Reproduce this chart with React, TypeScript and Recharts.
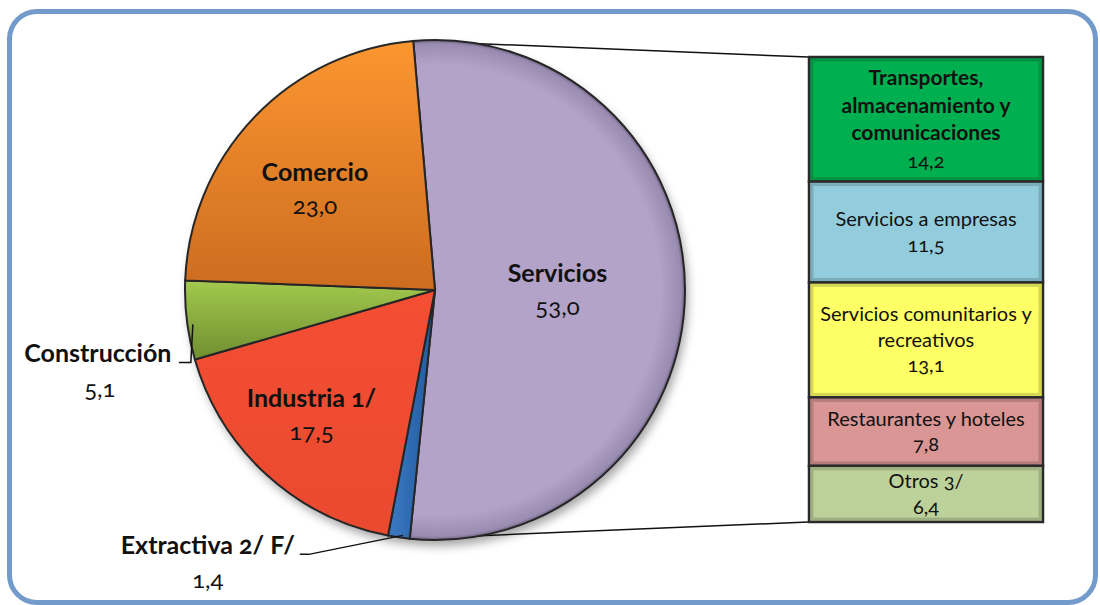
import { PieChart, Pie, Cell, BarChart, Bar, XAxis, YAxis, LabelList } from 'recharts'

// participación porcentual por sector
const sectores = ['Servicios', 'Extractiva 2/ F/', 'Industria 1/', 'Construcción', 'Comercio']
const participacion = [53.0, 1.4, 17.5, 5.1, 23.0]

// desglose de Servicios (cada entrada son las líneas de su etiqueta)
const subsectores = [
  ['Transportes,', 'almacenamiento y', 'comunicaciones'],
  ['Servicios a empresas'],
  ['Servicios comunitarios y', 'recreativos'],
  ['Restaurantes y hoteles'],
  ['Otros 3/'],
]
const subParticipacion = [14.2, 11.5, 13.1, 7.8, 6.4]

const coloresPie = ['url(#gServ)', 'url(#gExt)', 'url(#gInd)', 'url(#gCons)', 'url(#gCom)']
const coloresBarra = ['#00b050', '#93cddd', '#ffff66', '#d99694', '#bdd29b']

const FONT = 'Lato, "Open Sans", sans-serif'
const CX = 435
const CY = 290
const R = 250
const START = 95
const BAR = { left: 806, top: 55, width: 239, height: 469 }
const RAD = Math.PI / 180

const fmt = (v: number) => v.toFixed(1).replace('.', ',')

const pieData = sectores.map((name, i) => ({ name, value: participacion[i] }))
const totalServ = subParticipacion.reduce((a, b) => a + b, 0)
const barData = [
  Object.fromEntries([['name', 'Servicios'], ...subParticipacion.map((v, i) => [`s${i}`, v])]),
]

// ubicación de las etiquetas interiores (fracción del radio + ajuste)
const etiquetas: Record<string, { r: number; dx: number; dy: number }> = {
  Servicios: { r: 0.49, dx: 0, dy: 0 },
  Comercio: { r: 0.63, dx: -6, dy: 9 },
  'Industria 1/': { r: 0.68, dx: -9, dy: 0 },
}

const txt = { fontFamily: FONT, fill: '#111', fontVariantNumeric: 'oldstyle-nums' as const }

const pieLabel = (p: any) => {
  const { cx, cy, midAngle, outerRadius } = p
  const name = p.payload?.name ?? p.name
  const value = p.payload?.value ?? p.value
  const cos = Math.cos(-midAngle * RAD)
  const sin = Math.sin(-midAngle * RAD)
  const pos = etiquetas[name]
  if (pos) {
    const x = cx + outerRadius * pos.r * cos + pos.dx
    const y = cy + outerRadius * pos.r * sin + pos.dy
    return (
      <g>
        <text x={x} y={y - 9} textAnchor="middle" fontSize={25} fontWeight={700} style={txt}>
          {name}
        </text>
        <text x={x} y={y + 24} textAnchor="middle" fontSize={24} style={txt}>
          {fmt(value)}
        </text>
      </g>
    )
  }
  const ex = cx + outerRadius * cos
  const ey = cy + outerRadius * sin
  if (name === 'Construcción') {
    return (
      <g>
        <polyline
          points={`${ex + 6},${ey + 4} ${ex + 4},${ey + 42} ${ex - 8},${ey + 42}`}
          fill="none"
          stroke="#111"
          strokeWidth={1.5}
        />
        <text x={ex - 89} y={ey + 42} textAnchor="middle" fontSize={25} fontWeight={700} style={txt}>
          {name}
        </text>
        <text x={ex - 87} y={ey + 77} textAnchor="middle" fontSize={24} style={txt}>
          {fmt(value)}
        </text>
      </g>
    )
  }
  return (
    <g>
      <polyline
        points={`${ex + 4},${ey - 2} ${ex - 90},${ey + 17} ${ex - 99},${ey + 17}`}
        fill="none"
        stroke="#111"
        strokeWidth={1.5}
      />
      <text x={ex - 191} y={ey + 17} textAnchor="middle" fontSize={25} fontWeight={700} style={txt}>
        {name}
      </text>
      <text x={ex - 191} y={ey + 51} textAnchor="middle" fontSize={24} style={txt}>
        {fmt(value)}
      </text>
    </g>
  )
}

// el eje está invertido, así que la altura llega negativa
const BarShape = (p: any) => {
  let { x, y, width, height } = p
  if (height < 0) {
    y += height
    height = -height
  }
  if (width < 0) {
    x += width
    width = -width
  }
  return (
    <g>
      <rect x={x} y={y} width={width} height={height} fill={p.fill} stroke="#2a2a2a" strokeWidth={2.5} />
      <rect
        x={x + 3}
        y={y + 3}
        width={Math.max(width - 6, 0)}
        height={Math.max(height - 6, 0)}
        fill="none"
        stroke="rgba(0,0,0,0.16)"
        strokeWidth={3}
      />
    </g>
  )
}

const barLabel = (i: number) => (p: any) => {
  const { x, y, width, height } = p
  const lines = [...subsectores[i], fmt(subParticipacion[i])]
  const lh = i === 0 ? 27.5 : 25.5
  const mx = x + width / 2
  const first = y + height / 2 - ((lines.length - 1) * lh) / 2 + 7
  return (
    <text textAnchor="middle" fontSize={20} style={txt}>
      {lines.map((l, k) => (
        <tspan
          key={k}
          x={mx}
          y={first + k * lh}
          fontWeight={i === 0 && k < lines.length - 1 ? 700 : 400}
          fontSize={i === 0 && k < lines.length - 1 ? 21 : 20}
        >
          {l}
        </tspan>
      ))}
    </text>
  )
}

// extremos del sector Servicios para las líneas de conexión
const servEnd = START - (360 * participacion[0]) / participacion.reduce((a, b) => a + b, 0)
const pt = (a: number) => [CX + R * Math.cos(a * RAD), CY - R * Math.sin(a * RAD)]
const [sx, sy] = pt(START)
const [tx, ty] = pt(servEnd)

export default function App() {
  return (
    <div style={{ position: 'absolute', left: 0, top: 0, width: 1100, height: 605, background: '#fff', overflow: 'hidden' }}>
      <div
        style={{
          position: 'absolute',
          left: 7,
          top: 9,
          width: 1091,
          height: 596,
          boxSizing: 'border-box',
          border: '5px solid #729acb',
          borderRadius: 30,
        }}
      />
      <svg width={1100} height={605} style={{ position: 'absolute', left: 0, top: 0 }}>
        <defs>
          <filter id="blur" x="-20%" y="-20%" width="140%" height="140%">
            <feGaussianBlur stdDeviation={5} />
          </filter>
        </defs>
        <circle cx={CX + 3} cy={CY + 6} r={R} fill="rgba(0,0,0,0.35)" filter="url(#blur)" />
        <line x1={sx} y1={sy} x2={BAR.left + 2} y2={BAR.top + 2} stroke="#111" strokeWidth={1.5} />
        <line x1={tx} y1={ty} x2={BAR.left + 2} y2={BAR.top + BAR.height - 2} stroke="#111" strokeWidth={1.5} />
      </svg>
      <div style={{ position: 'absolute', left: 0, top: 0 }}>
        <PieChart width={1100} height={605} margin={{ top: 0, right: 0, bottom: 0, left: 0 }}>
          <defs>
            <radialGradient id="gServ" gradientUnits="userSpaceOnUse" cx={CX} cy={CY} r={R}>
              <stop offset="0.9" stopColor="#b3a3c8" />
              <stop offset="0.985" stopColor="#9a8bb0" />
              <stop offset="1" stopColor="#6f6283" />
            </radialGradient>
            <linearGradient id="gCom" x1="0" y1="0" x2="0" y2="1">
              <stop offset="0" stopColor="#fb9630" />
              <stop offset="1" stopColor="#cd6c20" />
            </linearGradient>
            <linearGradient id="gCons" x1="0" y1="0" x2="0" y2="1">
              <stop offset="0" stopColor="#a3c94e" />
              <stop offset="1" stopColor="#6f8f30" />
            </linearGradient>
            <linearGradient id="gInd" x1="0" y1="0" x2="0" y2="1">
              <stop offset="0" stopColor="#f44e33" />
              <stop offset="1" stopColor="#ea4a30" />
            </linearGradient>
            <linearGradient id="gExt" x1="0" y1="0" x2="1" y2="0">
              <stop offset="0" stopColor="#3b7bc4" />
              <stop offset="1" stopColor="#22599c" />
            </linearGradient>
          </defs>
          <Pie
            data={pieData}
            dataKey="value"
            nameKey="name"
            cx={CX}
            cy={CY}
            outerRadius={R}
            startAngle={START}
            endAngle={START - 360}
            stroke="#262626"
            strokeWidth={2}
            label={pieLabel}
            labelLine={false}
            isAnimationActive={false}
          >
            {pieData.map((d, i) => (
              <Cell key={d.name} fill={coloresPie[i]} />
            ))}
          </Pie>
        </PieChart>
      </div>
      <div style={{ position: 'absolute', left: BAR.left, top: BAR.top }}>
        <BarChart
          width={BAR.width}
          height={BAR.height}
          data={barData}
          margin={{ top: 2, right: 2, bottom: 2, left: 2 }}
          barCategoryGap={0}
          barSize={BAR.width - 5}
          barGap={0}
        >
          <XAxis dataKey="name" hide />
          <YAxis type="number" hide reversed domain={[0, totalServ]} />
          {subParticipacion.map((_, i) => (
            <Bar
              key={i}
              dataKey={`s${i}`}
              stackId="serv"
              fill={coloresBarra[i]}
              shape={(p: any) => <BarShape {...p} />}
              isAnimationActive={false}
            >
              <LabelList content={barLabel(i)} />
            </Bar>
          ))}
        </BarChart>
      </div>
    </div>
  )
}
